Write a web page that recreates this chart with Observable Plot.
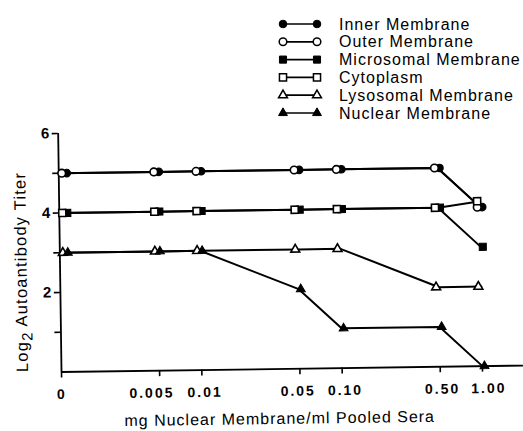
<!DOCTYPE html>
<html><head><meta charset="utf-8">
<script src="https://cdn.jsdelivr.net/npm/d3@7"></script>
<script src="https://cdn.jsdelivr.net/npm/@observablehq/plot@0.6"></script>
<style>
html,body{margin:0;padding:0;background:#fff;}
#chart{position:relative;width:523px;height:431px;overflow:hidden;font-family:"Liberation Sans",Arial,sans-serif;color:#000;}
#legend{position:absolute;left:0;top:0;}
#plot{position:absolute;left:0;top:128px;}
#plot svg{transform-origin:61px 243.5px;transform:rotate(-0.8deg);overflow:visible;}
#plot g[aria-label="y-axis tick label"] text{font-weight:bold;}
</style></head><body>
<div id="chart"><svg id="legend" width="523" height="128"></svg><div id="plot"></div></div>
<script>
// ---- data ----
const doses = [0, 0.005, 0.01, 0.05, 0.10, 0.50, 1.00];
const doseLabels = ["0", "0.005", "0.01", "0.05", "0.10", "0.50", "1.00"];
const seriesNames = ["Inner Membrane", "Outer Membrane", "Microsomal Membrane", "Cytoplasm", "Lysosomal Membrane", "Nuclear Membrane"];
const innerMembrane = [5, 5, 5, 5, 5, 5, 4];
const outerMembrane = [5, 5, 5, 5, 5, 5, 4];
const microsomalMembrane = [4, 4, 4, 4, 4, 4, 3];
const cytoplasm = [4, 4, 4, 4, 4, 4, 4.15];
const lysosomalMembrane = [3, 3, 3, 3, 3, 2, 2];
const nuclearMembrane = [3, 3, 3, 2, 1, 1, 0];
const yTicks = [1, 2, 3, 4, 5, 6];
const yTickLabels = ["", "2", "", "4", "", "6"];
const seriesSymbols = ["circle", "circle", "square", "square", "triangle", "triangle"];
const seriesFilled = [true, false, true, false, false, true];

const seriesValues = [innerMembrane, outerMembrane, microsomalMembrane, cytoplasm, lysosomalMembrane, nuclearMembrane];
const zeroPos = 0.001; // where "0" sits on the log axis
const pos = d => d === 0 ? zeroPos : d;
const rows = seriesNames.flatMap((s, i) => seriesValues[i].map((v, j) => ({series: s, si: i, dose: doses[j], pos: pos(doses[j]), titer: v})));
const tickRows = doses.map((d, j) => ({pos: pos(d), label: doseLabels[j]}));

const symR = {circle: 3.8, square: 4.0, triangle: 3.3};
const labelDx = {"0.005": -8, "0.01": 3, "0.05": -2, "0.10": 3, "0.50": 2, "1.00": 6};

const dotMarks = [];
seriesNames.forEach((s, i) => {
  const sym = seriesSymbols[i], filled = seriesFilled[i];
  const base = {x: "pos", y: "titer", symbol: sym, r: symR[sym], fill: filled ? "#000" : "#fff", stroke: "#000", strokeWidth: filled ? 1 : 1.6};
  const d = rows.filter(r => r.si === i);
  dotMarks.push(Plot.dot(d.filter(r => r.dose > 0), {...base, dx: filled ? 2 : -3}));
  dotMarks.push(Plot.dot(d.filter(r => r.dose === 0), {...base, dx: filled ? 8 : 3}));
});
const tickLabelMarks = tickRows.map(t => Plot.text([t], {
  x: "pos", text: "label", frameAnchor: "bottom", lineAnchor: "top", dy: 17, dx: labelDx[t.label] || 0,
  fontSize: 14, fontWeight: "bold", fill: "#000"
}));

const plot = Plot.plot({
  width: 523, height: 303,
  marginLeft: 61, marginRight: 0, marginTop: 5, marginBottom: 59.5,
  style: {fontFamily: '"Liberation Sans", Arial, sans-serif', fontSize: "14px", color: "#000", background: "transparent"},
  x: {type: "log", domain: [zeroPos, 1.96]},
  y: {domain: [0, 6]},
  marks: [
    Plot.ruleY([0], {stroke: "#000", strokeWidth: 1.8}),
    Plot.ruleX([zeroPos], {y1: 0, y2: 6, stroke: "#000", strokeWidth: 1.8}),
    Plot.axisY(yTicks, {tickSize: 6, tickPadding: 3, strokeWidth: 1.6, tickFormat: d => yTickLabels[yTicks.indexOf(d)], fontSize: 15, label: null}),
    Plot.axisX(tickRows.map(t => t.pos), {tickSize: 6, strokeWidth: 1.6, tickFormat: () => "", label: null}),
    ...tickLabelMarks,
    Plot.line(rows, {x: "pos", y: "titer", z: "series", stroke: "#000", strokeWidth: 2}),
    ...dotMarks
  ]
});
plot.querySelectorAll('text').forEach(t => { if (t.closest('g[aria-label="text"]')) t.style.letterSpacing = "2px"; });
document.getElementById("plot").appendChild(plot);

// axis titles
const svg = d3.select(plot);
svg.append("text")
  .attr("x", 279).attr("y", 299)
  .attr("text-anchor", "middle")
  .style("font-size", "16px").style("letter-spacing", "1px")
  .attr("fill", "#000")
  .text("mg Nuclear Membrane/ml Pooled Sera");
const yt = svg.append("text")
  .attr("transform", "translate(28,143.5) rotate(-90)")
  .attr("text-anchor", "middle")
  .style("font-size", "16.5px").style("letter-spacing", "1.2px")
  .attr("fill", "#000");
yt.append("tspan").text("Log");
yt.append("tspan").attr("dy", 5).style("font-size", "15px").text("2");
yt.append("tspan").attr("dy", -5).text(" Autoantibody Titer");

// legend
const lg = d3.select("#legend");
seriesNames.forEach((s, i) => {
  const y = 24 + 17.8 * i;
  const g = lg.append("g");
  g.append("line").attr("x1", 283).attr("x2", 317).attr("y1", y).attr("y2", y).attr("stroke", "#000").attr("stroke-width", 1.7);
  const sym = seriesSymbols[i];
  const shape = {circle: d3.symbolCircle, square: d3.symbolSquare, triangle: d3.symbolTriangle}[sym];
  const path = d3.symbol(shape, Math.PI * symR[sym] * symR[sym])();
  [283, 317].forEach(x => {
    g.append("path").attr("d", path).attr("transform", `translate(${x},${y})`)
      .attr("fill", seriesFilled[i] ? "#000" : "#fff").attr("stroke", "#000")
      .attr("stroke-width", seriesFilled[i] ? 1 : 1.5);
  });
  g.append("text").attr("x", 339).attr("y", y).attr("dy", "0.35em")
    .style("font-family", '"Liberation Sans", Arial, sans-serif')
    .style("font-size", "16px").style("letter-spacing", "1px")
    .attr("fill", "#000").text(s);
});
</script>
</body></html>
